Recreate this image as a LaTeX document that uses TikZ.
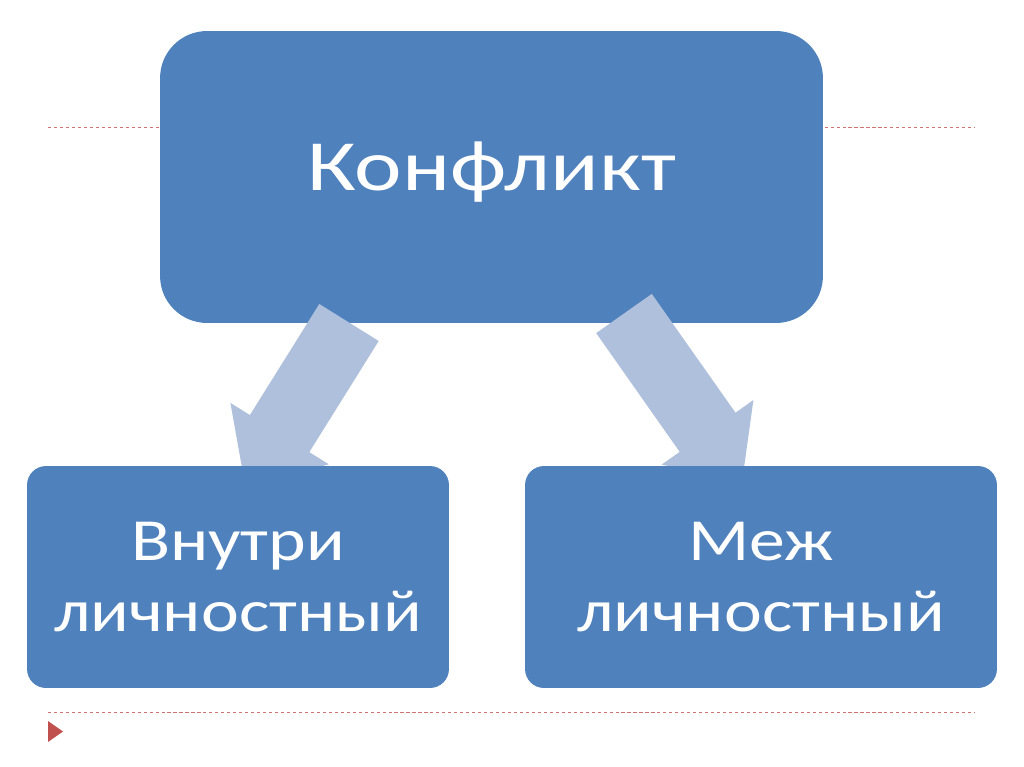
\documentclass[tikz,border=0pt]{standalone}
\usepackage{fontspec}
\setmainfont{Carlito}
\newfontfamily\wideTop[FakeStretch=1.25]{Carlito}
\newfontfamily\wideSub[FakeStretch=1.2]{Carlito}
\usepackage{tikz}
\definecolor{boxblue}{HTML}{4F81BD}
\definecolor{arrowblue}{HTML}{AFC0DC}
\definecolor{lineRed}{HTML}{C0504D}
\begin{document}
\begin{tikzpicture}[x=0.02cm,y=-0.02cm]
\tikzstyle{topic}=[rectangle,fill=boxblue,text=white,align=center,inner sep=0pt];
\tikzstyle{guide}=[lineRed!80,line width=0.5pt,dash pattern=on 1.8pt off 1.6pt];
\useasboundingbox (0,0) rectangle (1024,767);
% guide lines
\coordinate (gl)at(48,127);
\coordinate (gr)at(975,127);
\coordinate (hl)at(48,712);
\coordinate (hr)at(975,712);
\draw[guide](gl)--(gr);
\draw[guide](hl)--(hr);
\fill[lineRed](48,721)--(63,731.5)--(48,742)--cycle;
% boxes
\node[topic,rounded corners=0.94cm,minimum width=13.26cm,minimum height=5.84cm,
	text depth=0.45cm,font=\wideTop\fontsize{41}{48}\selectfont] (K)at(491.5,177) {Конфликт};
\fill[arrowblue](319.3,304)--(378.7,341)--(309.3,452.1)--(328.8,464.3)
	--(245.6,487.9)--(230.4,402.9)--(249.9,415)--cycle;
\fill[arrowblue](651.8,293.9)--(596.2,333.1)--(679.7,451.9)--(661.6,464.6)
	--(742.1,481.4)--(753.4,400.0)--(735.5,412.7)--cycle;
\node[topic,rounded corners=0.38cm,minimum width=8.44cm,minimum height=4.44cm,
	font=\wideSub\fontsize{34}{40}\selectfont] (V)at(238,577) {Внутри\\личностный};
\node[topic,rounded corners=0.38cm,minimum width=9.44cm,minimum height=4.44cm,
	font=\wideSub\fontsize{34}{40}\selectfont] (M)at(761,577) {Меж\\личностный};
\end{tikzpicture}
\end{document}
